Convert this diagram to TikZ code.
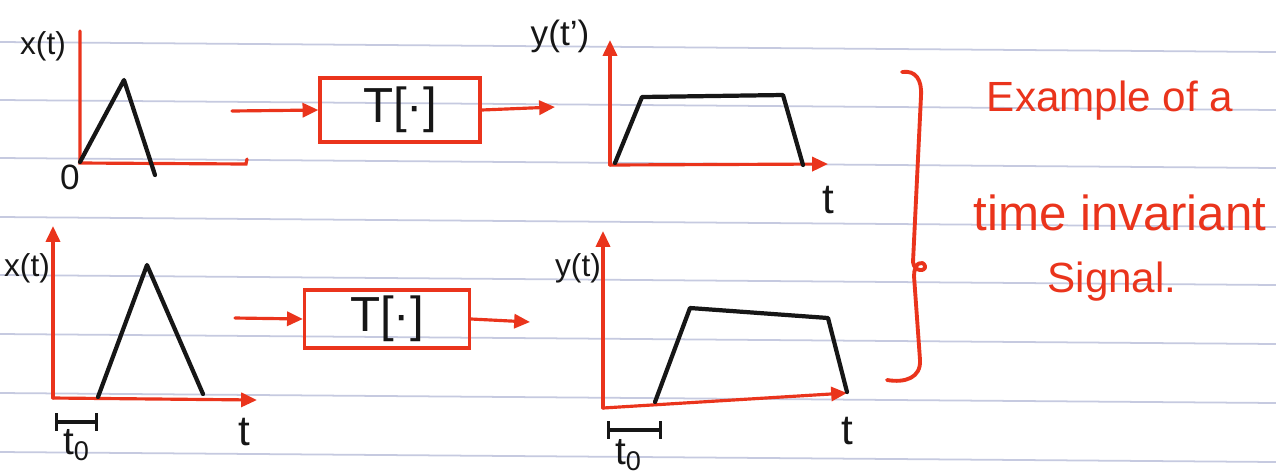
\documentclass[tikz,border=0pt]{standalone}
\usepackage{fontspec}
\setmainfont{Liberation Sans}
\usetikzlibrary{arrows.meta}
\definecolor{pen}{RGB}{234,52,28}
\definecolor{ink}{RGB}{22,22,22}
\definecolor{ruling}{RGB}{198,202,224}
\begin{document}
\begin{tikzpicture}[x=0.01cm, y=-0.01cm,
  axis/.style={pen, line width=0.9pt, line cap=round},
  tip/.style={-{Triangle[length=4.5pt,width=4pt]}},
  sig/.style={ink, line width=1.2pt, line join=round, line cap=round},
  span/.style={ink, line width=0.9pt, {Bar[width=5pt]}-{Bar[width=5pt]}},
  sysbox/.style={draw=pen, line width=0.9pt, minimum width=1.6cm, minimum height=0.64cm, inner sep=0pt, text=ink, font=\fontsize{14}{16}\selectfont},
  lbl/.style={ink, inner sep=0pt, font=\fontsize{9}{10}\selectfont},
  tlbl/.style={ink, inner sep=0pt, font=\fontsize{12}{14}\selectfont},
  note/.style={pen, inner sep=0pt}]
\fill[white] (0,0) rectangle (1276,475);
\useasboundingbox (0,0) rectangle (1276,475);
% notebook ruling
\foreach \y in {42,100,158,217,275,334,393,452}
  \draw[ruling, line width=0.5pt] (0,\y) -- (1276,{\y+10});

% ---- top-left plot x(t)
\coordinate (o1) at (80,163);
\coordinate (y1) at (80,31);
\coordinate (x1) at (246,164);
\coordinate (x1t) at (247,159);
\draw[axis] (y1) -- (o1) -- (x1) -- (x1t);
\draw[sig] (80,162) -- (124,80) -- (155,175);
\node[lbl] (xl1) at (43,46) {x(t)};
\node[lbl, font=\fontsize{10}{12}\selectfont] (zero) at (70,177) {0};

% ---- top system
\node[sysbox] (T1) at (400,110) {T[·]};
\coordinate (in1) at (232,111);
\coordinate (out1) at (555,107);
\draw[axis, tip] (in1) -- (T1.west);
\draw[axis, tip] (T1.east) -- (out1);

% ---- top-right plot y(t')
\coordinate (o2) at (610,165);
\coordinate (y2) at (610,40);
\coordinate (x2) at (828,164);
\draw[axis, tip] (o2) -- (y2);
\draw[axis, tip] (o2) -- (x2);
\draw[sig] (615,163) -- (642,97) -- (783,95) -- (803,165);
\node[lbl, font=\fontsize{10}{12}\selectfont] (yl2) at (560,36) {y(t')};
\node[tlbl] (tl2) at (828,200) {t};

% ---- bottom-left plot x(t)
\coordinate (o3) at (53,398);
\coordinate (y3) at (53,226);
\coordinate (x3) at (257,400);
\draw[axis, tip] (o3) -- (y3);
\draw[axis, tip] (o3) -- (x3);
\draw[sig] (98,397) -- (147,265) -- (203,394);
\node[lbl] (xl3) at (27,268) {x(t)};
\node[tlbl] (tl3) at (244,432) {t};
\coordinate (b3a) at (55,422);
\coordinate (b3b) at (98,422);
\draw[span] (b3a) -- (b3b);
\node[tlbl, font=\fontsize{11}{13}\selectfont] (t0a) at (77,445) {t\textsubscript{0}};

% ---- bottom system
\node[sysbox, minimum width=1.65cm, minimum height=0.58cm] (T2) at (387,319) {T[·]};
\coordinate (in2) at (235,318);
\coordinate (out2) at (530,322);
\draw[axis, tip] (in2) -- (T2.west);
\draw[axis, tip] (T2.east) -- (out2);

% ---- bottom-right plot y(t)
\coordinate (o4) at (603,408);
\coordinate (y4) at (603,231);
\coordinate (x4) at (847,393);
\draw[axis, tip] (o4) -- (y4);
\draw[axis, tip] (o4) -- (x4);
\draw[sig] (655,402) -- (690,308) -- (828,318) -- (847,392);
\node[lbl] (yl4) at (578,268) {y(t)};
\node[tlbl] (tl4) at (847,431) {t};
\coordinate (b4a) at (607,430);
\coordinate (b4b) at (662,430);
\draw[span] (b4a) -- (b4b);
\node[tlbl, font=\fontsize{11}{13}\selectfont] (t0b) at (629,455) {t\textsubscript{0}};

% ---- brace and note
\draw[pen, line width=1.1pt, line cap=round, line join=round]
  (902,72) .. controls (916,70) and (922,80) .. (921,96)
  -- (913,262) .. controls (914,272) and (926,272) .. (925,266)
  .. controls (923,260) and (914,262) .. (914,276)
  -- (920,360) .. controls (921,378) and (905,383) .. (887,380);
\node[note, font=\fontsize{12}{14}\selectfont] (n1) at (1110,101) {Example of a};
\node[note, font=\fontsize{14}{16}\selectfont] (n2) at (1120,213) {time invariant};
\node[note, font=\fontsize{12}{14}\selectfont] (n3) at (1112,282) {Signal.};
\end{tikzpicture}
\end{document}
